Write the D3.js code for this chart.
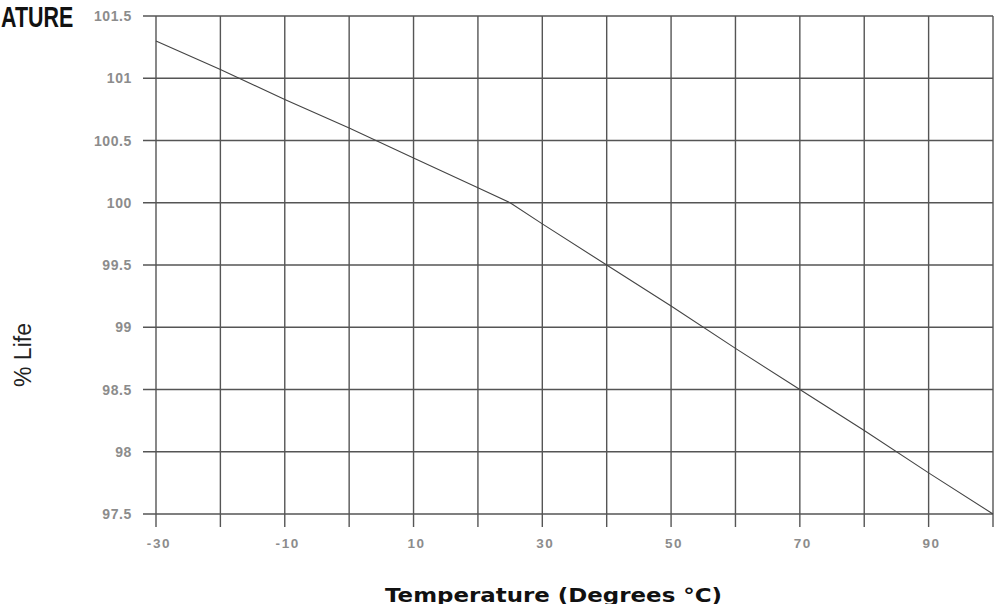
<!DOCTYPE html>
<html>
<head>
<meta charset="utf-8">
<script src="https://cdn.jsdelivr.net/npm/d3@7"></script>
<style>
  html, body { margin: 0; padding: 0; background: #fff; }
  svg { display: block; }
</style>
</head>
<body>
<svg id="chart" width="998" height="610"></svg>
<script>
// Life vs. temperature curve
const temperatures = [-30, -20, -10, 0, 10, 20, 25, 30, 40, 50, 60, 70, 80, 90, 100];
const lifePct = [101.3, 101.07, 100.83, 100.6, 100.36, 100.12, 100.0, 99.83, 99.5, 99.17, 98.83, 98.5, 98.17, 97.83, 97.5];

const xGridValues = [-30, -20, -10, 0, 10, 20, 30, 40, 50, 60, 70, 80, 90, 100];
const xTickLabels = [-30, -10, 10, 30, 50, 70, 90];
const yTickValues = [97.5, 98, 98.5, 99, 99.5, 100, 100.5, 101, 101.5];

const titleText = "ATURE";
const xTitle = "Temperature (Degrees °C)";
const yTitle = "% Life";

const svg = d3.select("#chart");

const x = d3.scaleLinear().domain([-30, 100]).range([156, 993]);
const y = d3.scaleLinear().domain([97.5, 101.5]).range([514, 16]);

const gridColor = "#555";
const tickColor = "#8c8c8c";

// horizontal grid lines, extending left of the axis as ticks
svg.append("g")
  .selectAll("line")
  .data(yTickValues)
  .join("line")
  .attr("x1", 143)
  .attr("x2", x(100))
  .attr("y1", d => y(d))
  .attr("y2", d => y(d))
  .attr("stroke", gridColor)
  .attr("stroke-width", 1.4);

// vertical grid lines, extending below the axis as ticks
svg.append("g")
  .selectAll("line")
  .data(xGridValues)
  .join("line")
  .attr("x1", d => x(d))
  .attr("x2", d => x(d))
  .attr("y1", y(101.5))
  .attr("y2", 527)
  .attr("stroke", gridColor)
  .attr("stroke-width", 1.4);

// y tick labels
svg.append("g")
  .selectAll("text")
  .data(yTickValues)
  .join("text")
  .attr("x", 132)
  .attr("y", d => y(d))
  .attr("dy", "0.36em")
  .attr("text-anchor", "end")
  .attr("font-family", "'Liberation Sans', Arial, sans-serif")
  .attr("font-weight", "bold")
  .attr("font-size", 14)
  .attr("letter-spacing", 0.6)
  .attr("fill", tickColor)
  .text(d => d);

// x tick labels
svg.append("g")
  .selectAll("text")
  .data(xTickLabels)
  .join("text")
  .attr("x", d => x(d) + 3)
  .attr("y", 548)
  .attr("text-anchor", "middle")
  .attr("font-family", "'Liberation Sans', Arial, sans-serif")
  .attr("font-weight", "bold")
  .attr("font-size", 13.5)
  .attr("letter-spacing", 1.6)
  .attr("fill", tickColor)
  .text(d => d);

// the data line
const line = d3.line()
  .x((d, i) => x(temperatures[i]))
  .y(d => y(d));

svg.append("path")
  .datum(lifePct)
  .attr("d", line)
  .attr("fill", "none")
  .attr("stroke", "#444")
  .attr("stroke-width", 1.1);

// chart title, condensed horizontally
svg.append("text")
  .attr("transform", "translate(1,27) scale(0.74,1)")
  .attr("font-family", "'Liberation Sans', Arial, sans-serif")
  .attr("font-weight", "bold")
  .attr("font-size", 29)
  .attr("fill", "#111")
  .text(titleText);

// axis titles
svg.append("defs").append("clipPath")
  .attr("id", "bottomClip")
  .append("rect")
  .attr("x", 0).attr("y", 0).attr("width", 998).attr("height", 604);

svg.append("text")
  .attr("clip-path", "url(#bottomClip)")
  .attr("x", 385)
  .attr("y", 602)
  .attr("font-family", "'DejaVu Sans', sans-serif")
  .attr("font-weight", "bold")
  .attr("font-size", 20)
  .attr("textLength", 337)
  .attr("lengthAdjust", "spacingAndGlyphs")
  .attr("fill", "#111")
  .text(xTitle);

svg.append("text")
  .attr("transform", "translate(31,355) rotate(-90)")
  .attr("text-anchor", "middle")
  .attr("font-family", "'Liberation Sans', Arial, sans-serif")
  .attr("font-size", 23)
  .attr("fill", "#222")
  .text(yTitle);
</script>
</body>
</html>
